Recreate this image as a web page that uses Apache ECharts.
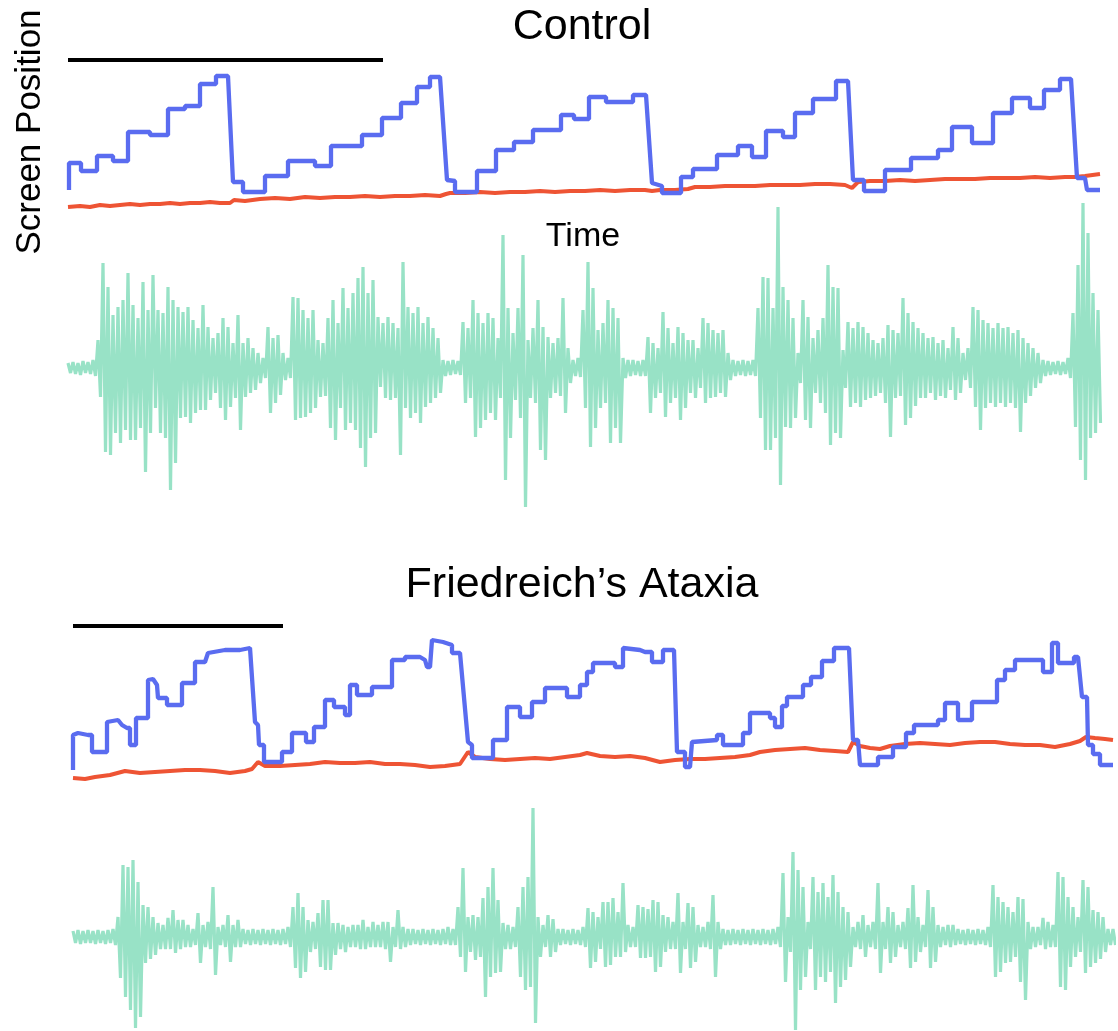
<!DOCTYPE html>
<html>
<head>
<meta charset="utf-8">
<script src="https://cdn.jsdelivr.net/npm/echarts@6/dist/echarts.min.js"></script>
<style>
  html, body { margin: 0; padding: 0; background: #ffffff; }
  #chart { width: 1118px; height: 1031px; }
</style>
</head>
<body>
<div id="chart"></div>
<script>
// ---- Control subject: screen position traces [time, position] ----
const controlTarget = [[1,30],[1,57],[13,57],[13,49],[29,49],[29,64],[45,64],[45,59],[60,59],[60,88],[82,88],[82,85],[100,85],[100,111],[117,111],[117,114],[132,114],[132,136],[148,136],[148,144],[160,144],[165,38],[175,38],[175,28],[197,28],[197,44],[220,44],[220,59],[247,59],[247,54],[263,54],[263,74],[294,74],[294,85],[314,85],[314,102],[333,102],[333,117],[349,117],[349,133],[362,133],[362,143],[372,143],[379,40],[387,39],[387,28],[409,28],[409,49],[428,49],[428,70],[446,70],[446,78],[465,78],[465,90],[493,90],[493,105],[506,105],[506,101],[521,101],[521,123],[538,123],[538,118],[565,118],[565,125],[578,125],[584,37],[594,34],[594,27],[613,27],[613,43],[625,43],[625,51],[649,51],[649,65],[670,65],[670,74],[684,74],[684,63],[698,63],[698,89],[715,89],[715,83],[727,83],[727,107],[745,107],[745,121],[768,121],[768,139],[780,139],[785,40],[796,40],[796,29],[817,29],[817,50],[843,50],[843,62],[870,62],[870,70],[884,70],[884,93],[904,93],[904,77],[925,77],[925,107],[944,107],[944,122],[962,122],[962,112],[976,112],[976,130],[992,130],[992,141],[1003,141],[1009,42],[1017,42],[1019,30],[1032,30]];

const controlCursor = [[0,13],[12,14],[22,13],[32,15],[42,14],[52,15],[62,16],[72,15],[82,16],[92,16],[102,17],[112,16],[122,17],[132,17],[142,18],[152,17],[162,17],[166,20],[177,19],[192,21],[207,22],[222,21],[237,23],[252,22],[267,23],[282,23],[297,24],[312,23],[327,24],[342,24],[357,25],[372,24],[378,26],[382,27],[397,27],[412,28],[427,27],[442,28],[457,28],[472,29],[487,28],[502,29],[517,29],[532,30],[547,29],[562,30],[577,30],[584,29],[592,30],[607,30],[620,31],[627,33],[642,33],[657,34],[672,34],[687,34],[702,35],[717,35],[732,35],[747,36],[762,36],[777,35],[784,32],[790,38],[802,39],[817,39],[832,40],[847,39],[862,40],[877,41],[892,41],[907,41],[922,42],[937,42],[952,42],[967,43],[982,42],[997,43],[1007,43],[1017,44],[1032,46]];

const controlScaleBar = [[0,160],[315,160]];

// ---- Control subject: EMG peak excursions per 5-sample column ----
const controlEmgUp = [5,6,5,7,6,8,28,105,81,53,61,68,95,63,50,86,58,93,58,55,81,68,61,56,61,48,40,63,41,30,35,50,41,25,53,25,30,20,15,10,41,30,33,15,10,71,70,58,50,58,28,25,50,68,45,80,60,75,90,101,75,88,51,45,51,45,40,106,61,55,61,45,51,40,30,8,7,8,7,46,40,68,55,45,55,50,30,133,60,35,60,113,28,40,68,41,31,25,30,70,20,8,10,58,106,80,38,45,68,60,50,10,8,8,7,8,31,25,20,56,40,25,41,35,28,28,20,50,45,38,35,38,15,8,7,8,7,8,60,91,90,60,161,81,68,50,15,68,51,30,38,50,103,81,80,18,46,40,46,41,35,28,25,30,43,38,35,70,55,46,40,35,30,31,25,28,20,41,30,15,20,61,58,48,45,40,45,40,41,35,38,30,25,20,15,8,7,6,7,6,10,55,103,165,135,75,58];
const controlEmgDown = [5,6,7,5,6,8,29,84,87,65,75,62,72,72,60,104,65,40,65,70,122,95,50,49,55,45,42,42,32,25,40,52,39,30,62,29,25,22,15,10,45,35,27,12,10,52,50,49,45,40,29,28,60,72,40,62,55,62,80,99,70,65,19,30,32,30,87,40,50,45,55,39,35,30,25,8,7,6,7,35,30,69,60,52,45,52,30,112,70,32,50,139,30,35,82,92,30,25,28,45,15,8,9,40,79,60,40,35,75,60,75,10,8,7,8,8,45,30,25,49,35,30,52,40,25,30,20,35,30,29,25,29,12,8,7,8,7,8,50,82,82,70,117,59,60,50,15,52,60,25,35,45,77,65,70,20,39,35,39,32,30,28,25,35,69,30,28,57,50,38,30,30,25,32,28,30,22,32,25,12,20,39,62,40,35,39,35,39,35,40,64,35,28,20,15,8,7,6,7,6,10,59,92,112,70,65,55];

// ---- Friedreich's Ataxia subject: screen position traces ----
const ataxiaTarget = [[0,15],[0,50],[5,52],[15,50],[19,50],[19,33],[34,33],[34,63],[45,65],[49,60],[54,57],[57,57],[57,40],[63,40],[63,67],[75,67],[75,105],[80,106],[84,100],[85,87],[94,87],[94,80],[109,80],[109,102],[122,102],[122,123],[132,123],[135,132],[152,135],[167,135],[177,137],[182,63],[185,60],[186,40],[191,40],[191,23],[209,23],[209,33],[219,33],[219,52],[233,52],[233,43],[241,43],[241,58],[252,58],[252,85],[261,85],[261,78],[272,78],[272,70],[277,70],[277,100],[284,100],[284,90],[299,90],[299,98],[319,98],[319,125],[332,125],[332,128],[347,128],[352,125],[354,118],[357,118],[359,145],[370,143],[379,140],[379,132],[387,132],[389,130],[395,43],[399,40],[399,27],[420,27],[420,45],[434,45],[434,78],[447,78],[447,68],[459,68],[459,83],[472,83],[472,97],[494,97],[494,88],[507,88],[507,100],[514,100],[514,113],[520,113],[520,122],[542,122],[542,118],[550,118],[550,137],[567,135],[572,133],[579,133],[579,123],[590,123],[590,135],[601,135],[604,33],[612,33],[612,18],[617,18],[619,43],[644,45],[644,50],[650,50],[650,40],[670,40],[670,52],[677,52],[677,72],[697,72],[697,67],[702,67],[702,58],[709,58],[709,79],[714,79],[714,88],[730,88],[730,100],[738,100],[738,108],[749,108],[749,124],[761,124],[761,137],[776,137],[780,45],[785,45],[787,20],[805,20],[805,28],[820,28],[820,38],[833,38],[833,52],[841,52],[841,60],[865,60],[865,65],[872,65],[872,82],[885,82],[885,65],[899,65],[899,83],[924,83],[924,105],[932,105],[932,115],[942,115],[942,125],[970,125],[970,113],[979,113],[979,142],[985,142],[985,122],[1001,122],[1001,128],[1005,128],[1009,88],[1014,88],[1015,40],[1020,40],[1020,31],[1027,31],[1027,20],[1040,20]];

const ataxiaCursor = [[0,7],[12,6],[22,8],[37,10],[52,14],[67,12],[82,13],[97,14],[112,15],[127,15],[142,14],[157,12],[172,14],[179,16],[185,23],[192,19],[207,19],[222,20],[237,21],[252,23],[267,22],[282,22],[297,23],[312,21],[327,21],[342,20],[357,18],[372,19],[387,21],[395,33],[402,28],[417,26],[432,25],[447,26],[462,27],[477,26],[492,28],[507,30],[514,32],[527,29],[542,28],[557,29],[572,27],[587,23],[602,25],[617,26],[632,26],[647,27],[662,28],[677,30],[687,33],[702,35],[717,36],[732,37],[747,35],[762,34],[775,33],[780,43],[787,39],[797,37],[807,36],[817,39],[832,41],[847,42],[862,41],[877,40],[892,42],[907,43],[922,43],[937,41],[952,40],[967,40],[982,38],[997,41],[1007,44],[1013,48],[1022,47],[1032,46],[1040,45]];

const ataxiaScaleBar = [[0,159],[210,159]];

// ---- Friedreich's Ataxia subject: EMG peak excursions per 5-sample column ----
const ataxiaEmgUp = [6,7,6,7,6,7,6,7,8,20,72,70,77,55,32,30,20,14,12,19,27,17,17,12,8,24,12,15,50,10,12,22,12,17,8,7,8,7,8,7,8,7,8,10,30,44,30,17,15,24,37,37,14,14,12,10,12,12,17,10,15,12,15,15,10,27,10,8,8,7,8,7,8,7,8,10,8,30,69,20,22,20,39,50,69,37,14,12,10,30,50,60,129,20,12,22,18,8,8,7,8,7,10,29,25,20,35,35,39,25,54,12,10,32,30,28,37,35,22,20,15,44,15,34,30,12,10,15,42,15,8,7,8,7,8,7,8,7,8,7,8,10,64,20,85,67,50,15,60,45,54,40,62,45,30,25,10,15,22,12,15,54,15,30,25,12,15,29,52,20,12,47,30,12,10,12,12,8,7,8,7,8,7,10,52,40,35,30,25,40,38,15,10,10,19,15,12,65,60,40,30,20,57,50,27,25,20,8,8];
const ataxiaEmgDown = [6,7,6,6,7,6,7,6,8,41,60,73,91,80,26,22,18,12,12,12,16,12,10,10,8,26,10,12,38,8,10,25,10,10,7,8,7,8,7,8,7,8,7,10,31,41,35,15,12,30,33,33,18,12,15,10,10,12,12,10,10,10,12,25,10,12,10,8,7,8,7,8,7,8,7,8,8,20,35,15,23,20,60,40,36,35,12,12,10,40,53,50,86,20,10,20,15,8,7,8,7,8,10,31,25,12,30,28,20,20,15,10,10,21,21,20,35,30,15,12,12,36,12,31,25,10,10,12,40,12,8,8,7,8,7,8,7,8,7,8,7,10,45,15,93,53,40,12,53,40,45,35,66,50,43,30,10,12,20,10,12,36,12,26,20,10,12,31,25,15,10,31,25,10,8,10,8,7,8,7,8,7,8,10,40,35,26,25,20,45,63,12,10,8,12,10,10,50,53,30,20,15,36,30,26,22,15,8,8];

const EMG_STEP = 5;

const BLUE = '#5a6cf0';
const RED = '#ee5434';
const GREEN = '#98e2c6';
const FONT = 'Liberation Sans, Arial, sans-serif';

// Turn per-column peak excursions into an alternating up/down signal trace
function emgTrace(up, down) {
  const pts = [];
  for (let i = 0; i < up.length; i++) {
    pts.push([i * EMG_STEP, up[i]]);
    pts.push([i * EMG_STEP + EMG_STEP / 2, -down[i]]);
  }
  return pts;
}

const chart = echarts.init(document.getElementById('chart'), null, { renderer: 'canvas' });

const hiddenAxis = { show: false };

const option = {
  animation: false,
  backgroundColor: '#ffffff',
  grid: [
    { left: 68, top: 50, width: 1034, height: 170 },
    { left: 68, top: 198, width: 1034, height: 340 },
    { left: 73, top: 615, width: 1040, height: 170 },
    { left: 73, top: 837, width: 1040, height: 194 }
  ],
  xAxis: [
    Object.assign({ type: 'value', gridIndex: 0, min: 0, max: 1034 }, hiddenAxis),
    Object.assign({ type: 'value', gridIndex: 1, min: 0, max: 1034 }, hiddenAxis),
    Object.assign({ type: 'value', gridIndex: 2, min: 0, max: 1040 }, hiddenAxis),
    Object.assign({ type: 'value', gridIndex: 3, min: 0, max: 1040 }, hiddenAxis)
  ],
  yAxis: [
    Object.assign({ type: 'value', gridIndex: 0, min: 0, max: 170 }, hiddenAxis),
    Object.assign({ type: 'value', gridIndex: 1, min: -170, max: 170 }, hiddenAxis),
    Object.assign({ type: 'value', gridIndex: 2, min: 0, max: 170 }, hiddenAxis),
    Object.assign({ type: 'value', gridIndex: 3, min: -94, max: 100 }, hiddenAxis)
  ],
  series: [
    { type: 'line', xAxisIndex: 0, yAxisIndex: 0, data: controlScaleBar, symbol: 'none', clip: false,
      lineStyle: { color: '#000000', width: 4 } },
    { type: 'line', xAxisIndex: 0, yAxisIndex: 0, data: controlCursor, symbol: 'none', clip: false,
      lineStyle: { color: RED, width: 4 } },
    { type: 'line', xAxisIndex: 0, yAxisIndex: 0, data: controlTarget, symbol: 'none', clip: false,
      lineStyle: { color: BLUE, width: 4.3 } },
    { type: 'line', xAxisIndex: 1, yAxisIndex: 1, data: emgTrace(controlEmgUp, controlEmgDown), symbol: 'none', clip: false,
      lineStyle: { color: GREEN, width: 3.2 } },
    { type: 'line', xAxisIndex: 2, yAxisIndex: 2, data: ataxiaScaleBar, symbol: 'none', clip: false,
      lineStyle: { color: '#000000', width: 4 } },
    { type: 'line', xAxisIndex: 2, yAxisIndex: 2, data: ataxiaCursor, symbol: 'none', clip: false,
      lineStyle: { color: RED, width: 4 } },
    { type: 'line', xAxisIndex: 2, yAxisIndex: 2, data: ataxiaTarget, symbol: 'none', clip: false,
      lineStyle: { color: BLUE, width: 4.3 } },
    { type: 'line', xAxisIndex: 3, yAxisIndex: 3, data: emgTrace(ataxiaEmgUp, ataxiaEmgDown), symbol: 'none', clip: false,
      lineStyle: { color: GREEN, width: 3.2 } }
  ],
  graphic: [
    { type: 'text', x: 582, y: 27, style: { text: 'Control', font: '43px ' + FONT, fill: '#000', align: 'center', verticalAlign: 'middle' } },
    { type: 'text', x: 582, y: 585, style: { text: 'Friedreich\u2019s Ataxia', font: '43px ' + FONT, fill: '#000', align: 'center', verticalAlign: 'middle' } },
    { type: 'text', x: 583, y: 237, style: { text: 'Time', font: '34px ' + FONT, fill: '#000', align: 'center', verticalAlign: 'middle' } },
    { type: 'text', x: 30, y: 132, rotation: Math.PI / 2,
      style: { text: 'Screen Position', font: '35px ' + FONT, fill: '#000', align: 'center', verticalAlign: 'middle' } }
  ]
};

chart.setOption(option);
</script>
</body>
</html>
